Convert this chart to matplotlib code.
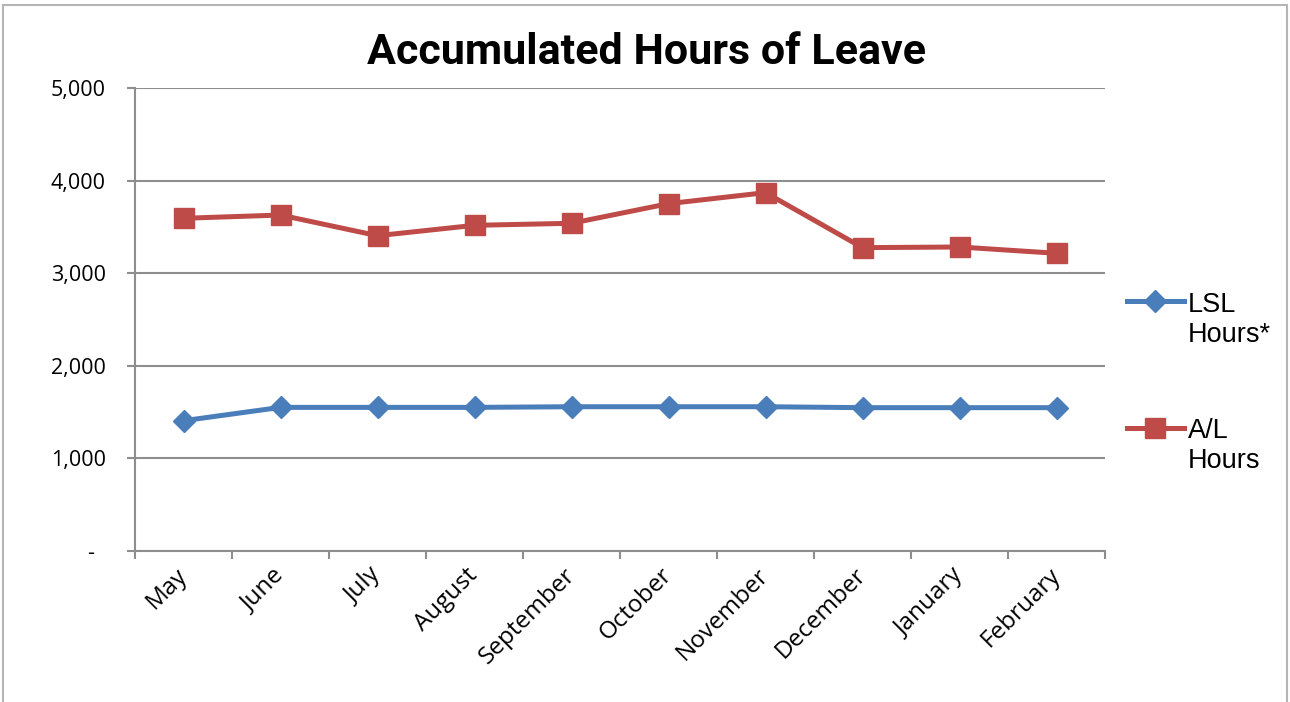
import matplotlib
matplotlib.use("Agg")
import matplotlib.pyplot as plt
from matplotlib.patches import Rectangle
from matplotlib.ticker import FixedLocator, FixedFormatter

months = ["May", "June", "July", "August", "September", "October",
          "November", "December", "January", "February"]
lsl_hours = [1407, 1551, 1551, 1551, 1558, 1558, 1558, 1548, 1548, 1548]
al_hours = [3593, 3628, 3405, 3517, 3539, 3751, 3870, 3276, 3283, 3215]
y_ticks = [0, 1000, 2000, 3000, 4000, 5000]
y_tick_labels = ["-  ", "1,000", "2,000", "3,000", "4,000", "5,000"]
series_labels = ["LSL\nHours*", "A/L\nHours"]
title = "Accumulated Hours of Leave"

BLUE = "#4a7ebb"
RED = "#be4b48"
GRID = "#8e8e8e"

fig = plt.figure(figsize=(12.9, 7.02), dpi=100)
ax = fig.add_axes([135/1290, 1 - 551/702, (1105-135)/1290, (551-88)/702])

x = list(range(len(months)))
ax.plot(x, lsl_hours, color=BLUE, lw=3.6, marker="D", ms=11.5,
        label=series_labels[0], solid_joinstyle="round")
ax.plot(x, al_hours, color=RED, lw=3.6, marker="s", ms=14,
        label=series_labels[1], solid_joinstyle="round")

ax.set_xlim(-0.5, len(months) - 0.5)
ax.set_ylim(0, 5000)

# y axis
ax.yaxis.set_major_locator(FixedLocator(y_ticks))
ax.yaxis.set_major_formatter(FixedFormatter(y_tick_labels))
ax.grid(axis="y", color=GRID, lw=1.5)
ax.set_axisbelow(True)
ax.tick_params(axis="y", length=6, width=1.5, color=GRID, pad=15,
               labelsize=15.5)

# x axis: ticks at boundaries, labels at centers
ax.xaxis.set_major_locator(FixedLocator([i - 0.5 for i in range(len(months) + 1)]))
ax.xaxis.set_major_formatter(FixedFormatter([""] * (len(months) + 1)))
ax.xaxis.set_minor_locator(FixedLocator(x))
ax.xaxis.set_minor_formatter(FixedFormatter(months))
ax.tick_params(axis="x", which="major", length=6, width=1.5, color=GRID)
ax.tick_params(axis="x", which="minor", length=0, pad=15, labelsize=17.5)
for lab in ax.get_xticklabels(minor=True):
    lab.set_rotation(45)
    lab.set_ha("right")
    lab.set_va("center")
    lab.set_rotation_mode("anchor")

for s in ["top", "right"]:
    ax.spines[s].set_visible(False)
for s in ["left", "bottom"]:
    ax.spines[s].set_color(GRID)
    ax.spines[s].set_linewidth(1.5)

for lab in ax.get_yticklabels() + ax.get_xticklabels(minor=True):
    lab.set_family(["Open Sans", "DejaVu Sans"])

fig.text(0.5 * (368 + 925) / 1290, 1 - 53/702, title, ha="center", va="center",
         fontsize=31, fontweight="bold",
         family=["Roboto", "DejaVu Sans"])

leg = ax.legend(loc="upper left", bbox_to_anchor=(1127/1290, 1 - 292/702),
                bbox_transform=fig.transFigure, frameon=False,
                prop={"family": ["Liberation Sans", "DejaVu Sans"], "size": 19.5},
                handlelength=2.1, handletextpad=0.15, labelspacing=2.6,
                borderpad=0, borderaxespad=0)
for col in leg._legend_handle_box.get_children():
    for row in col.get_children():
        row.align = "top"

fig.patches.append(Rectangle((3/1290, -0.05), (1287-3)/1290, 1.05 - 5/702,
                             transform=fig.transFigure, fill=False,
                             edgecolor="#b5b5b5", lw=1.5))

fig.savefig("out.png", dpi=100)
